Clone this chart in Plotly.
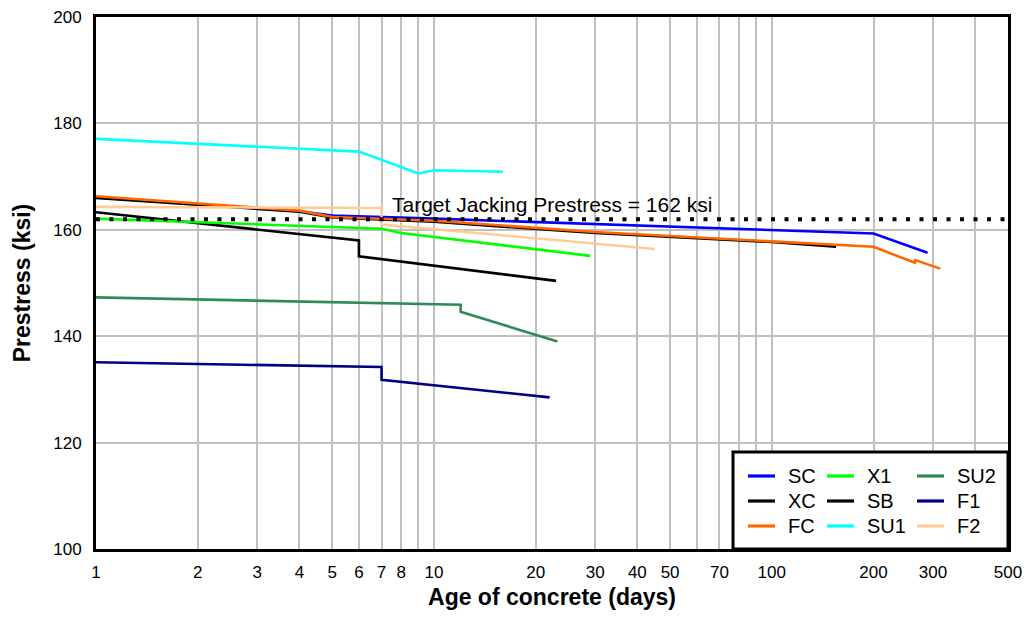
import math
import plotly.graph_objects as go

# ---------------- data ----------------
SC_x = [1, 4, 5, 10, 200, 289]
SC_y = [166.1, 163.5, 162.7, 162.1, 159.3, 155.7]

XC_x = [1, 4, 5, 10, 30, 100, 155]
XC_y = [166.0, 163.4, 162.3, 161.5, 159.4, 157.7, 156.8]

FC_x = [1, 4, 5, 10, 30, 100, 200, 265, 266, 315]
FC_y = [166.3, 163.6, 162.4, 161.7, 159.6, 157.9, 156.8, 153.8, 154.3, 152.7]

X1_x = [1, 7, 8, 29]
X1_y = [162.1, 160.2, 159.4, 155.1]

SB_x = [1, 6, 6, 23]
SB_y = [163.3, 158.0, 155.0, 150.4]

SU1_x = [1, 6, 9, 10, 16]
SU1_y = [177.1, 174.7, 170.6, 171.2, 170.9]

SU2_x = [1, 12, 12, 23.2]
SU2_y = [147.3, 145.9, 144.6, 139.0]

F1_x = [1, 7, 7, 22]
F1_y = [135.1, 134.2, 131.8, 128.5]

F2_x = [1, 7, 7, 45]
F2_y = [164.3, 164.1, 161.0, 156.4]

TARGET = 162
TARGET_X = [1, 500]
TARGET_LABEL = "Target Jacking Prestress = 162 ksi"

X_TICKS = [1, 2, 3, 4, 5, 6, 7, 8, 9, 10, 20, 30, 40, 50, 60, 70, 80, 90, 100, 200, 300, 400, 500]
X_LABELS = ["1", "2", "3", "4", "5", "6", "7", "8", "", "10", "20", "30", "40", "50", "", "70", "", "",
            "100", "200", "300", "", "500"]
Y_TICKS = [100, 120, 140, 160, 180, 200]

# legend layout (column-major, 3 rows)
LEGEND_ORDER = ["SC", "XC", "FC", "X1", "SB", "SU1", "SU2", "F1", "F2"]

# drawing order
SERIES = [
    ("SC", SC_x, SC_y, "#0000ff"),
    ("XC", XC_x, XC_y, "#000000"),
    ("FC", FC_x, FC_y, "#ff6600"),
    ("SB", SB_x, SB_y, "#000000"),
    ("X1", X1_x, X1_y, "#00ff00"),
    ("SU1", SU1_x, SU1_y, "#00ffff"),
    ("SU2", SU2_x, SU2_y, "#2e8b57"),
    ("F1", F1_x, F1_y, "#000080"),
    ("F2", F2_x, F2_y, "#ffcc99"),
]

FONT = "Arial, Liberation Sans, sans-serif"

# plot-area geometry (px) used to place the legend box in paper coords
W, H = 1031, 617
ML, MR, MT, MB = 96, 23, 17, 68
PW, PH = W - ML - MR, H - MT - MB


def px_x(p):
    return (p - ML) / PW


def px_y(p):
    return (H - MB - p) / PH


fig = go.Figure()
colors = {}
for name, xs, ys, col in SERIES:
    colors[name] = col
    fig.add_trace(go.Scatter(x=xs, y=ys, name=name, mode="lines",
                             line=dict(color=col, width=2.6), showlegend=False))

fig.add_trace(go.Scatter(x=TARGET_X, y=[TARGET, TARGET], mode="lines", showlegend=False,
                         line=dict(color="black", width=4, dash="4px,9.5px")))

fig.add_annotation(x=math.log10(7.4), y=164.7, xref="x", yref="y", text=TARGET_LABEL,
                   showarrow=False, xanchor="left", yanchor="middle",
                   font=dict(family=FONT, size=21, color="black"))

# legend box
fig.add_shape(type="rect", xref="paper", yref="paper", x0=px_x(733), x1=1.0, y0=0.0, y1=px_y(452),
              line=dict(color="black", width=3), fillcolor="white", layer="above")

col_sample = [748, 827, 917]
col_text = [786, 865, 955]
row_y = [476, 501, 526]
for i, name in enumerate(LEGEND_ORDER):
    c, r = divmod(i, 3)
    fig.add_shape(type="line", xref="paper", yref="paper",
                  x0=px_x(col_sample[c]), x1=px_x(col_sample[c] + 27),
                  y0=px_y(row_y[r]), y1=px_y(row_y[r]),
                  line=dict(color=colors[name], width=3.2), layer="above")
    fig.add_annotation(x=px_x(col_text[c]), y=px_y(row_y[r]), xref="paper", yref="paper",
                       text=name, showarrow=False, xanchor="left", yanchor="middle",
                       font=dict(family=FONT, size=20, color="black"))

fig.update_layout(
    width=W, height=H,
    margin=dict(l=ML, r=MR, t=MT, b=MB),
    paper_bgcolor="white", plot_bgcolor="white",
    font=dict(family=FONT, size=17, color="black"),
    showlegend=False,
    xaxis=dict(type="log", range=[0, math.log10(500)], tickvals=X_TICKS, ticktext=X_LABELS,
               showgrid=True, gridcolor="#c0c0c0", gridwidth=2, zeroline=False,
               showline=True, linecolor="black", linewidth=3, mirror=True, ticks="",
               tickfont=dict(family=FONT, size=17), ticklabelstandoff=6, automargin=False,
               title=dict(text="<b>Age of concrete (days)</b>", font=dict(family=FONT, size=23), standoff=8)),
    yaxis=dict(range=[100, 200], tickvals=Y_TICKS, showgrid=True, gridcolor="#c0c0c0", gridwidth=2,
               zeroline=False, showline=True, linecolor="black", linewidth=3, mirror=True, ticks="",
               tickfont=dict(family=FONT, size=17), ticklabelstandoff=8, automargin=False,
               title=dict(text="<b>Prestress (ksi)</b>", font=dict(family=FONT, size=23), standoff=17)),
)

fig.write_html("out.html")
